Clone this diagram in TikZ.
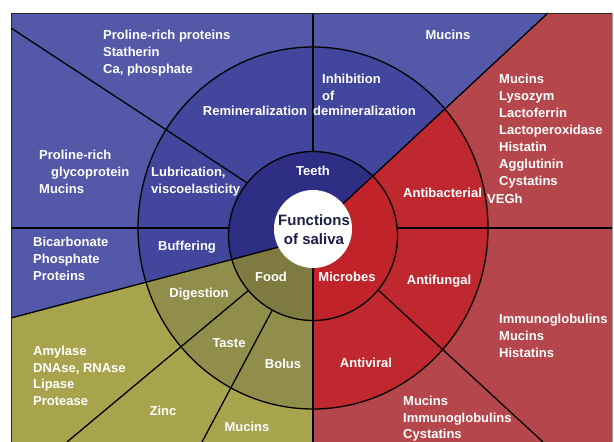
\documentclass[tikz,border=0pt]{standalone}
\usepackage{fontspec}
\setmainfont{Liberation Sans}
\definecolor{blueO}{RGB}{84,88,168}
\definecolor{blueM}{RGB}{66,70,156}
\definecolor{blueI}{RGB}{45,46,132}
\definecolor{redO}{RGB}{181,71,76}
\definecolor{redM}{RGB}{190,40,46}
\definecolor{redI}{RGB}{192,36,42}
\definecolor{olvO}{RGB}{168,164,78}
\definecolor{olvM}{RGB}{145,141,74}
\definecolor{olvI}{RGB}{126,122,64}
\definecolor{navy}{RGB}{30,30,72}
\begin{document}
\begin{tikzpicture}[x=1pt,y=-1pt,
  divider/.style={line width=1.3pt, black},
  lbl/.style={text=white, font=\bfseries\fontsize{13}{16}\selectfont, inner sep=0pt},
  lst/.style={lbl, anchor=base west},
  ctr/.style={lbl, anchor=base},
  hub/.style={text=navy, font=\bfseries\fontsize{15}{19}\selectfont, inner sep=0pt, anchor=base}]
\useasboundingbox (0,0) rectangle (614,442);
\coordinate (M) at (313,228);
\coordinate (I) at (313,236);
\coordinate (W) at (313,229);
% outer and middle fills
\fill[white] (0,0) rectangle (614,442);
\fill[blueO] (11,13) rectangle (612,442);
\fill[blueM] (M) ellipse [x radius=175, y radius=181];
\begin{scope}
  \clip (0,321) -- (300,241.4) -- (313,241) -- (313,450) -- (0,450) -- cycle;
  \fill[olvO] (11,13) rectangle (612,442);
  \fill[olvM] (M) ellipse [x radius=175, y radius=181];
\end{scope}
\begin{scope}
  \clip (548,13) -- (325,220.5) -- (313,232) -- (313,450) -- (620,450) -- (620,13) -- cycle;
  \fill[redO] (11,13) rectangle (612,442);
  \fill[redM] (M) ellipse [x radius=175, y radius=181];
\end{scope}
% dividers that stop at the inner ring
\coordinate (t1) at (313,13);   \coordinate (t1i) at (313,200);
\coordinate (d2) at (11,28);    \coordinate (d2i) at (290,211);
\coordinate (h3) at (11,228);   \coordinate (h3i) at (280,228);
\coordinate (h7) at (612,228);  \coordinate (h7i) at (350,228);
\coordinate (d8) at (543,442);  \coordinate (d8i) at (350,264);
\coordinate (d9) at (67,442);   \coordinate (d9i) at (280,264);
\coordinate (d10) at (202,442); \coordinate (d10i) at (300,258);
\draw[divider] (t1) -- (t1i);
\draw[divider] (d2) -- (d2i);
\draw[divider] (h3) -- (h3i);
\draw[divider] (h7) -- (h7i);
\draw[divider] (d8) -- (d8i);
\draw[divider] (d9) -- (d9i);
\draw[divider] (d10) -- (d10i);
% inner ring fills
\fill[blueI] (I) circle [radius=84.5];
\begin{scope}
  \clip (0,321) -- (300,241.4) -- (313,241) -- (313,450) -- (0,450) -- cycle;
  \fill[olvI] (I) circle [radius=84.5];
\end{scope}
\begin{scope}
  \clip (548,13) -- (325,220.5) -- (313,232) -- (313,450) -- (620,450) -- (620,13) -- cycle;
  \fill[redI] (I) circle [radius=84.5];
\end{scope}
% dividers through the inner ring
\coordinate (d4) at (11,318);  \coordinate (d4i) at (300,241.4);
\coordinate (v5) at (313,442); \coordinate (v5i) at (313,235);
\coordinate (d6) at (548,13);  \coordinate (d6i) at (325,220.5);
\draw[divider] (d4) -- (d4i);
\draw[divider] (v5) -- (v5i);
\draw[divider] (d6) -- (d6i);
% ring outlines
\draw[divider] (M) ellipse [x radius=175, y radius=181];
\draw[divider] (I) circle [radius=84.5];
\fill[white] (W) circle [radius=39];
% frame
\draw[line width=1pt, black!85] (11,442) -- (11,13) -- (612,13);
\draw[line width=0.8pt, black!40] (612,13) -- (612,442);
% centre
\node[hub] (fn1) at (314,225.5) {Functions};
\node[hub] (fn2) at (314,244.5) {of saliva};
% teeth (blue)
\node[lst] (pr1) at (103,39.5) {Proline-rich proteins};
\node[lst] (pr2) at (103,56.5) {Statherin};
\node[lst] (pr3) at (103,73.5) {Ca, phosphate};
\node[ctr] (mu0) at (448,39.5) {Mucins};
\node[ctr] (rem) at (255,115.5) {Remineralization};
\node[lst] (ih1) at (322,83.5) {Inhibition};
\node[lst] (ih2) at (322,100) {of};
\node[lst] (ih3) at (313,115.5) {demineralization};
\node[ctr] (tee) at (313,175.5) {Teeth};
\node[lst] (lu1) at (151,176.5) {Lubrication,};
\node[lst] (lu2) at (151,193.5) {viscoelasticity};
\node[lst] (gp1) at (39,159.5) {Proline-rich};
\node[lst] (gp2) at (51,176.5) {glycoprotein};
\node[lst] (gp3) at (39,193.5) {Mucins};
\node[lst] (bc1) at (33,246.5) {Bicarbonate};
\node[lst] (bc2) at (33,263.5) {Phosphate};
\node[lst] (bc3) at (33,280.5) {Proteins};
\node[ctr] (buf) at (187,250.5) {Buffering};
% food (olive)
\node[ctr] (dig) at (199,297.5) {Digestion};
\node[ctr] (foo) at (271,281.5) {Food};
\node[ctr] (tas) at (229,347.5) {Taste};
\node[ctr] (bol) at (283,368.5) {Bolus};
\node[lst] (am1) at (33,355.5) {Amylase};
\node[lst] (am2) at (33,372.2) {DNAse, RNAse};
\node[lst] (am3) at (33,388.9) {Lipase};
\node[lst] (am4) at (33,405.6) {Protease};
\node[ctr] (zin) at (163,415.5) {Zinc};
\node[ctr] (mu4) at (247,431.5) {Mucins};
% microbes (red)
\node[ctr] (mic) at (347,281.5) {Microbes};
\node[lst] (abc) at (403,197.5) {Antibacterial};
\node[lst] (veg) at (487,203.5) {VEGh};
\node[lst] (ab1) at (499,83.5) {Mucins};
\node[lst] (ab2) at (499,100.5) {Lysozym};
\node[lst] (ab3) at (499,117.5) {Lactoferrin};
\node[lst] (ab4) at (499,134.5) {Lactoperoxidase};
\node[lst] (ab5) at (499,151.5) {Histatin};
\node[lst] (ab6) at (499,168.5) {Agglutinin};
\node[lst] (ab7) at (499,185.5) {Cystatins};
\node[ctr] (afu) at (439,284.5) {Antifungal};
\node[lst] (af1) at (499,323.5) {Immunoglobulins};
\node[lst] (af2) at (499,340.5) {Mucins};
\node[lst] (af3) at (499,357.5) {Histatins};
\node[ctr] (avi) at (366,367.5) {Antiviral};
\node[lst] (av1) at (403,405.5) {Mucins};
\node[lst] (av2) at (403,422) {Immunoglobulins};
\node[lst] (av3) at (403,438.5) {Cystatins};
\end{tikzpicture}
\end{document}
